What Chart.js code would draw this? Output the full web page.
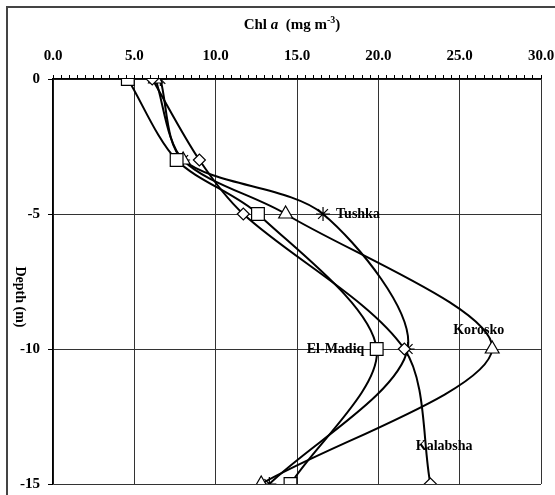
<!DOCTYPE html>
<html>
<head>
<meta charset="utf-8">
<script src="https://cdn.jsdelivr.net/npm/chart.js@4.4.1/dist/chart.umd.min.js"></script>
<style>
  body { margin: 0; background: #fff; }
  canvas { display: block; }
</style>
</head>
<body>
<canvas id="chart" width="555" height="495"></canvas>
<script>
// depth profiles of chlorophyll a, one array per station
const depths = [0, -3, -5, -10, -15];
const kalabsha = [6.1, 9.0, 11.7, 21.6, 23.2];
const elMadiq = [4.6, 7.6, 12.6, 19.9, 14.6];
const korosko = [6.3, 8.0, 14.3, 27.0, 12.8];
const tushka = [6.6, 8.0, 16.6, 21.8, 13.3];

const stationNames = ["Kalabsha", "El-Madiq", "Korosko", "Tushka"];
// where the station names sit (x = Chl a, y = depth)
const nameX = [22.3, 15.6, 24.6, 17.4];
const nameY = [-13.6, -10, -9.3, -5];

const serif = "'Liberation Serif', 'Times New Roman', serif";

function pts(vals) {
  return vals.map((v, i) => ({ x: v, y: depths[i] }));
}

function ds(label, vals, style, r) {
  return {
    label: label,
    data: pts(vals),
    showLine: true,
    tension: 0.3,
    borderColor: "#000",
    borderWidth: 2,
    pointStyle: style,
    pointRadius: r,
    pointBackgroundColor: "#fff",
    pointBorderColor: "#000",
    pointBorderWidth: 1.2,
  };
}

const framePlugin = {
  id: "frame",
  beforeDraw(chart) {
    const c = chart.ctx;
    c.save();
    c.fillStyle = "#fff";
    c.fillRect(0, 0, chart.width, chart.height);
    c.strokeStyle = "#444";
    c.lineWidth = 2;
    c.beginPath();
    c.moveTo(7, chart.height);
    c.lineTo(7, 7);
    c.lineTo(chart.width, 7);
    c.stroke();
    c.restore();
  },
  afterDraw(chart) {
    const c = chart.ctx;
    const xs = chart.scales.x, ys = chart.scales.y;
    c.save();
    c.fillStyle = "#000";
    c.textBaseline = "middle";

    // axis title  Chl a (mg m-3)
    const parts = [
      ["Chl ", "bold 15px " + serif, 0],
      ["a", "italic bold 15px " + serif, 0],
      ["  (mg m", "bold 15px " + serif, 0],
      ["-3", "bold 10px " + serif, -5],
      [")", "bold 15px " + serif, 0],
    ];
    let w = 0;
    parts.forEach(p => { c.font = p[1]; w += c.measureText(p[0]).width; });
    let x = 292 - w / 2;
    c.textAlign = "left";
    parts.forEach(p => {
      c.font = p[1];
      c.fillText(p[0], x, 25 + p[2]);
      x += c.measureText(p[0]).width;
    });

    // depth title
    c.save();
    c.translate(20, 297);
    c.rotate(Math.PI / 2);
    c.textAlign = "center";
    c.font = "bold 14px " + serif;
    c.fillText("Depth (m)", 0, 0);
    c.restore();

    // station names
    c.font = "bold 14px " + serif;
    c.textAlign = "left";
    stationNames.forEach((n, i) => {
      c.fillText(n, xs.getPixelForValue(nameX[i]), ys.getPixelForValue(nameY[i]));
    });
    c.restore();
  },
};

new Chart("chart", {
  type: "scatter",
  data: {
    datasets: [
      ds("Kalabsha", kalabsha, "rectRot", 6),
      ds("El-Madiq", elMadiq, "rect", 9),
      ds("Korosko", korosko, "triangle", 8),
      ds("Tushka", tushka, "star", 7),
    ],
  },
  options: {
    responsive: false,
    animation: false,
    devicePixelRatio: 1,
    layout: { padding: { left: 0, top: 0, right: 14, bottom: 11 } },
    plugins: { legend: { display: false }, tooltip: { enabled: false } },
    scales: {
      x: {
        type: "linear",
        position: "top",
        min: 0,
        max: 30,
        afterFit(s) {
          s.height = 79;
          s.paddingLeft = 0;
          s.paddingRight = 0;
        },
        ticks: {
          stepSize: 0.5,
          autoSkip: false,
          maxRotation: 0,
          padding: 10,
          color: "#000",
          font: { family: serif, size: 15, weight: "bold" },
          callback: v => (v % 5 === 0 ? v.toFixed(1) : ""),
        },
        grid: {
          color: ctx => (ctx.tick && ctx.tick.value % 5 === 0 ? "#333" : "rgba(0,0,0,0)"),
          tickColor: "#000",
          tickLength: 4,
          lineWidth: 1,
        },
        border: { color: "#000", width: 1.5 },
      },
      y: {
        type: "linear",
        min: -15,
        max: 0,
        afterFit(s) {
          s.width = 53;
          s.paddingTop = 0;
          s.paddingBottom = 0;
        },
        ticks: {
          stepSize: 5,
          padding: 8,
          color: "#000",
          font: { family: serif, size: 15, weight: "bold" },
        },
        grid: { color: "#333", tickColor: "#000", tickLength: 5, lineWidth: 1 },
        border: { color: "#000", width: 1.5 },
      },
    },
  },
  plugins: [framePlugin],
});
</script>
</body>
</html>
